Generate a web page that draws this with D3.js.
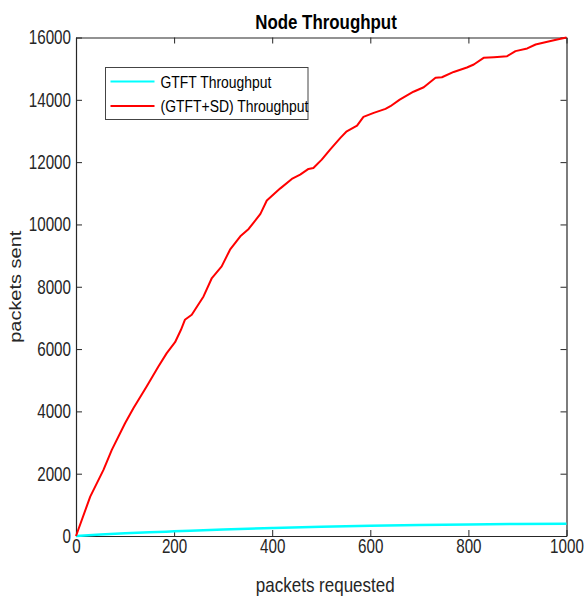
<!DOCTYPE html>
<html>
<head>
<meta charset="utf-8">
<script src="https://cdn.jsdelivr.net/npm/d3@7"></script>
<style>
  body { margin: 0; background: #fff; }
  svg { display: block; font-family: "Liberation Sans", Arial, sans-serif; }
</style>
</head>
<body>
<div id="chart"></div>
<script>
// packets requested (x) for the GTFT curve
let gtftX = [0, 50, 100, 150, 200, 300, 400, 500, 600, 700, 800, 900, 1000];
let gtftY = [0, 45, 85, 120, 150, 210, 255, 295, 325, 350, 370, 385, 395];

// (GTFT+SD) curve
let sdX = [0, 29, 56, 73, 100, 117, 144, 168, 185, 202, 214, 222, 236, 260, 277, 297, 314, 335, 352,
  376, 389, 416, 440, 457, 474, 484, 501, 518, 539, 552, 573, 586, 607, 631, 641, 660, 688, 709,
  733, 746, 770, 797, 811, 831, 852, 879, 896, 920, 937, 961, 981, 1000];
let sdY = [0, 1263, 2121, 2763, 3621, 4103, 4797, 5440, 5870, 6220, 6619, 6940, 7100, 7689, 8280, 8653, 9189, 9617, 9854,
  10340, 10770, 11150, 11461, 11599, 11782, 11814, 12081, 12403, 12778, 12990, 13173, 13452, 13581, 13710, 13794, 14005, 14260, 14402,
  14706, 14725, 14895, 15036, 15133, 15348, 15369, 15401, 15562, 15650, 15776, 15863, 15938, 16000];

let xTicks = [0, 200, 400, 600, 800, 1000];
let yTicks = [0, 2000, 4000, 6000, 8000, 10000, 12000, 14000, 16000];
let seriesNames = ["GTFT Throughput", "(GTFT+SD) Throughput"];
let seriesColors = ["#00ffff", "#ff0000"];

let width = 588;
let height = 597;
let margin = {left: 76, right: 21.5, top: 37.5, bottom: 61};
let axisColor = "#262626";
// the reference text is horizontally condensed; no narrow font here, so squeeze it
let tickSqueeze = 0.76;

let svg = d3.select("#chart").append("svg")
  .attr("width", width)
  .attr("height", height);

let x = d3.scaleLinear()
  .domain([0, 1000])
  .range([margin.left, width - margin.right]);
let y = d3.scaleLinear()
  .domain([0, 16000])
  .range([height - margin.bottom, margin.top]);

// axes on all four sides, ticks pointing inward
let fmt = d3.format("d");
let bottomAxis = d3.axisBottom(x).tickValues(xTicks).tickSizeInner(-6).tickSizeOuter(0).tickPadding(3).tickFormat(fmt);
let topAxis = d3.axisTop(x).tickValues(xTicks).tickSizeInner(-6).tickSizeOuter(0).tickFormat("");
let leftAxis = d3.axisLeft(y).tickValues(yTicks).tickSizeInner(-6).tickSizeOuter(0).tickFormat(fmt);
let rightAxis = d3.axisRight(y).tickValues(yTicks).tickSizeInner(-6).tickSizeOuter(0).tickFormat("");

function styleAxis(g) {
  g.select(".domain").attr("stroke", axisColor).attr("stroke-width", 1.2);
  g.selectAll(".tick line").attr("stroke", axisColor).attr("stroke-width", 1);
  g.selectAll(".tick text")
    .attr("fill", axisColor)
    .style("font-family", "'Liberation Sans', Arial, sans-serif")
    .style("font-size", "20px")
    .attr("transform", `scale(${tickSqueeze},1)`);
}

svg.append("g").attr("transform", `translate(0,${y(0)})`).call(bottomAxis).call(styleAxis);
svg.append("g").attr("transform", `translate(0,${y(16000)})`).call(topAxis).call(styleAxis);
let gLeft = svg.append("g").attr("transform", `translate(${x(0)},0)`).call(leftAxis).call(styleAxis);
gLeft.selectAll(".tick text").attr("x", -5 / tickSqueeze);
svg.append("g").attr("transform", `translate(${x(1000)},0)`).call(rightAxis).call(styleAxis);

// lines
let line = d3.line()
  .x((d) => x(d[0]))
  .y((d) => y(d[1]));

let gtftData = gtftX.map((v, i) => [v, gtftY[i]]);
let sdData = sdX.map((v, i) => [v, sdY[i]]);

svg.append("path")
  .datum(gtftData)
  .attr("d", d3.line().x((d) => x(d[0])).y((d) => y(d[1])).curve(d3.curveMonotoneX))
  .attr("fill", "none")
  .attr("stroke", seriesColors[0])
  .attr("stroke-width", 2.5);

svg.append("path")
  .datum(sdData)
  .attr("d", line)
  .attr("fill", "none")
  .attr("stroke", seriesColors[1])
  .attr("stroke-width", 2)
  .attr("stroke-linejoin", "round");

// title and labels
svg.append("text")
  .attr("transform", `translate(326,29) scale(0.845,1)`)
  .attr("text-anchor", "middle")
  .style("font-size", "20px")
  .style("font-weight", "bold")
  .attr("fill", "#000")
  .text("Node Throughput");

svg.append("text")
  .attr("transform", `translate(${(x(0) + x(1000)) / 2 + 4},592) scale(0.85,1)`)
  .attr("text-anchor", "middle")
  .style("font-size", "20px")
  .attr("fill", axisColor)
  .text("packets requested");

svg.append("text")
  .attr("transform", `translate(20.5,${(y(0) + y(16000)) / 2}) rotate(-90) scale(1,0.82)`)
  .attr("text-anchor", "middle")
  .style("font-size", "20px")
  .attr("fill", axisColor)
  .text("packets sent");

// legend
let legend = svg.append("g").attr("transform", "translate(105.5,67.5)");
legend.append("rect")
  .attr("width", 202.5)
  .attr("height", 52)
  .attr("fill", "#fff")
  .attr("stroke", "#444")
  .attr("stroke-width", 1);

seriesNames.forEach((name, i) => {
  let rowY = 14 + i * 24.5;
  legend.append("line")
    .attr("x1", 5).attr("x2", 49)
    .attr("y1", rowY).attr("y2", rowY)
    .attr("stroke", seriesColors[i])
    .attr("stroke-width", 2.2);
  legend.append("text")
    .attr("transform", `translate(55,${rowY + 6}) scale(0.82,1)`)
    .style("font-size", "17px")
    .attr("fill", "#000")
    .text(name);
});
</script>
</body>
</html>
